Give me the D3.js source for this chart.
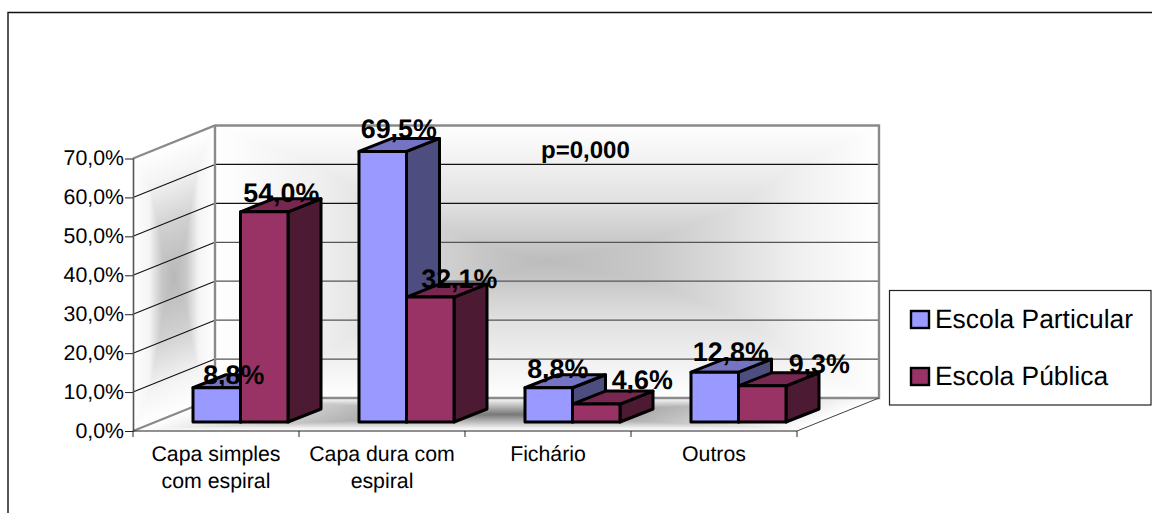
<!DOCTYPE html>
<html><head><meta charset="utf-8">
<script src="https://cdn.jsdelivr.net/npm/d3@7"></script>
<style>html,body{margin:0;padding:0;background:#fff}svg{display:block}text{font-family:"Liberation Sans",Arial,sans-serif;fill:#000;text-rendering:geometricPrecision}</style>
</head><body><div id="c"></div>
<script>
const categories = [["Capa simples","com espiral"],["Capa dura com","espiral"],["Fichário"],["Outros"]];
const seriesNames = ["Escola Particular","Escola Pública"];
const particular = [8.8,69.5,8.8,12.8];
const publica = [54.0,32.1,4.6,9.3];
const yTicks = [0,10,20,30,40,50,60,70];
const pValue = "p=0,000";

const W=1152,H=513;
const svg=d3.select("#c").append("svg").attr("width",W).attr("height",H);
const defs=svg.append("defs");
const L=133,R=797,Y0=431,Y70=158.5,DX=82,DY=33;
const y=d3.scaleLinear().domain([0,70]).range([Y0,Y70]);
const xCat=d3.scaleBand().domain(d3.range(4)).range([L,R]);
const xSer=d3.scaleBand().domain([0,1]).range([0,95]);
const barInset=60,barLift=9,bdx=33,bdy=13;
const comma=d3.format(".1f");
const pct=v=>comma(v).replace(".",",")+"%";
const colors=[{f:"#9999FF",t:"#7474C2",s:"#4D4D80"},{f:"#993366",t:"#782850",s:"#4D1A33"}];

function grad(id,x1,y1,x2,y2,stops){
  const g=defs.append("linearGradient").attr("id",id).attr("gradientUnits","userSpaceOnUse")
    .attr("x1",x1).attr("y1",y1).attr("x2",x2).attr("y2",y2);
  stops.forEach(s=>g.append("stop").attr("offset",s[0]).attr("stop-color",s[1]));
}
function shaded(id,transform,w,h,hs,vs){
  grad(id+"h",0,0,w,0,hs);grad(id+"v",0,0,0,h,vs);
  const g=svg.append("g").attr("transform",transform).style("isolation","isolate");
  g.append("rect").attr("width",w).attr("height",h).attr("fill",`url(#${id}h)`);
  g.append("rect").attr("width",w).attr("height",h).attr("fill",`url(#${id}v)`).style("mix-blend-mode","lighten");
}
const wallH=[[0,"#fff"],[.15,"#f0f0f0"],[.3,"#d8d8d8"],[.42,"#c4c4c4"],[.5,"#bcbcbc"],[.65,"#c8c8c8"],[.75,"#d8d8d8"],[.88,"#f0f0f0"],[1,"#fff"]];
const wallV=[[0,"#fff"],[.29,"#e0e0e0"],[.45,"#c4c4c4"],[.5,"#bcbcbc"],[.55,"#c4c4c4"],[.71,"#e0e0e0"],[1,"#fff"]];
const wallW=R-L,wallTall=Y0-Y70;
shaded("wall",`translate(${L+DX},${Y70-DY})`,wallW,wallTall,wallH,wallV);
shaded("left",`matrix(1,${-DY/DX},0,1,${L},${Y70})`,DX,wallTall,
  [[0,"#fff"],[.2,"#f4f4f4"],[.35,"#c8c8c8"],[.5,"#b8b8b8"],[.65,"#c8c8c8"],[.8,"#f4f4f4"],[1,"#fff"]],
  [[0,"#fff"],[.12,"#f4f4f4"],[.3,"#d0d0d0"],[.5,"#b8b8b8"],[.7,"#d0d0d0"],[.88,"#f4f4f4"],[1,"#fff"]]);
shaded("floor",`matrix(1,0,${-DX/DY},1,${L+DX},${Y0-DY})`,wallW,DY,
  [[0,"#fff"],[.5,"#777"],[1,"#fff"]],
  [[0,"#fff"],[.12,"#ddd"],[.5,"#777"],[.9,"#eee"],[1,"#fff"]]);

// gridlines
const grid=svg.append("g");
yTicks.slice(1,-1).forEach(t=>{
  grid.append("path").attr("d",`M${L},${y(t)}L${L+DX},${y(t)-DY}`)
    .attr("fill","none").attr("stroke","#111").attr("stroke-width",1.1);
  grid.append("path").attr("d",`M${L+DX},${y(t)-DY}L${R+DX},${y(t)-DY}`)
    .attr("fill","none").attr("stroke",t>=50?"#111":"#555").attr("stroke-width",1.2);
});
// walls frame
svg.append("path").attr("d",`M${L},${Y70}L${L+DX},${Y70-DY}L${R+DX},${Y70-DY}L${R+DX},${Y0-DY}L${L+DX},${Y0-DY}L${L+DX},${Y70-DY}M${L},${Y0}L${L+DX},${Y0-DY}`)
  .attr("fill","none").attr("stroke","#8a8a8a").attr("stroke-width",2.4);
svg.append("path").attr("d",`M${R},${Y0}L${R+DX},${Y0-DY}`).attr("fill","none").attr("stroke","#444").attr("stroke-width",1);

// axes
const yAxis=d3.axisLeft(y).tickValues(yTicks).tickSize(8).tickPadding(1).tickFormat(pct);
const ya=svg.append("g").attr("transform",`translate(${L},0)`).call(yAxis);
ya.selectAll("text").style("font-size","21.3px").attr("dy",".3em");
ya.select(".domain").attr("d",`M0.5,${Y70}V${Y0}`).attr("stroke","#555").attr("stroke-width",1.6);
ya.selectAll(".tick line").attr("stroke","#222");
const xTicks=[...xCat.domain().map(d=>xCat(d)),R];
svg.append("line").attr("x1",L).attr("x2",R).attr("y1",Y0).attr("y2",Y0).attr("stroke","#222").attr("stroke-width",1.2);
svg.selectAll(".xt").data(xTicks).join("line").attr("class","xt")
  .attr("x1",d=>d).attr("x2",d=>d).attr("y1",Y0).attr("y2",Y0+6).attr("stroke","#222");
categories.forEach((lines,i)=>{
  lines.forEach((s,j)=>{
    svg.append("text").attr("x",xCat(i)+xCat.bandwidth()/2).attr("y",461+j*27)
      .attr("text-anchor","middle").style("font-size","21.3px").text(s);
  });
});

// bars
const series=[particular,publica];
const bars=svg.append("g").attr("stroke","#000").attr("stroke-width",3).attr("stroke-linejoin","round");
const base=y(0)-barLift;
categories.forEach((_,c)=>{
  series.forEach((vals,s)=>{
    const x0=xCat(c)+barInset+xSer(s),x1=x0+xSer.bandwidth();
    const top=base-(y(0)-y(vals[c]));
    const col=colors[s];
    bars.append("polygon").attr("fill",col.s)
      .attr("points",[[x1,top],[x1+bdx,top-bdy],[x1+bdx,base-bdy],[x1,base]].join(" "));
    bars.append("polygon").attr("fill",col.t)
      .attr("points",[[x0,top],[x0+bdx,top-bdy],[x1+bdx,top-bdy],[x1,top]].join(" "));
    bars.append("rect").attr("fill",col.f).attr("x",x0).attr("y",top).attr("width",x1-x0).attr("height",base-top);
  });
});

// data labels
const labelNudgeX=[[17,17],[16,29],[9,46],[16,57]];
const labelNudgeY=[[4,10],[13,9],[10,15],[11,13]];
series.forEach((vals,s)=>{
  vals.forEach((v,c)=>{
    const x0=xCat(c)+barInset+xSer(s);
    const top=base-(y(0)-y(v));
    svg.append("text").attr("x",x0+xSer.bandwidth()/2+labelNudgeX[c][s]).attr("y",top-labelNudgeY[c][s])
      .attr("text-anchor","middle").style("font-size","26.8px").style("font-weight","bold").text(pct(v));
  });
});
svg.append("text").attr("x",541).attr("y",158).style("font-size","24px").style("font-weight","bold").text(pValue);

// legend
const lg=svg.append("g");
lg.append("rect").attr("x",889.5).attr("y",290.5).attr("width",261.5).attr("height",114.5)
  .attr("fill","#fff").attr("stroke","#222").attr("stroke-width",1.2);
seriesNames.forEach((n,i)=>{
  const ly=311+i*57;
  lg.append("rect").attr("x",911).attr("y",ly).attr("width",18).attr("height",17)
    .attr("fill",colors[i].f).attr("stroke","#000").attr("stroke-width",2.4);
  lg.append("text").attr("x",935).attr("y",ly+17).style("font-size","26.4px").text(n);
});

// outer border (top and left only are visible)
svg.append("path").attr("d",`M8,${H}V12.5H${W}`).attr("fill","none").attr("stroke","#111").attr("stroke-width",1.4);
</script></body></html>
